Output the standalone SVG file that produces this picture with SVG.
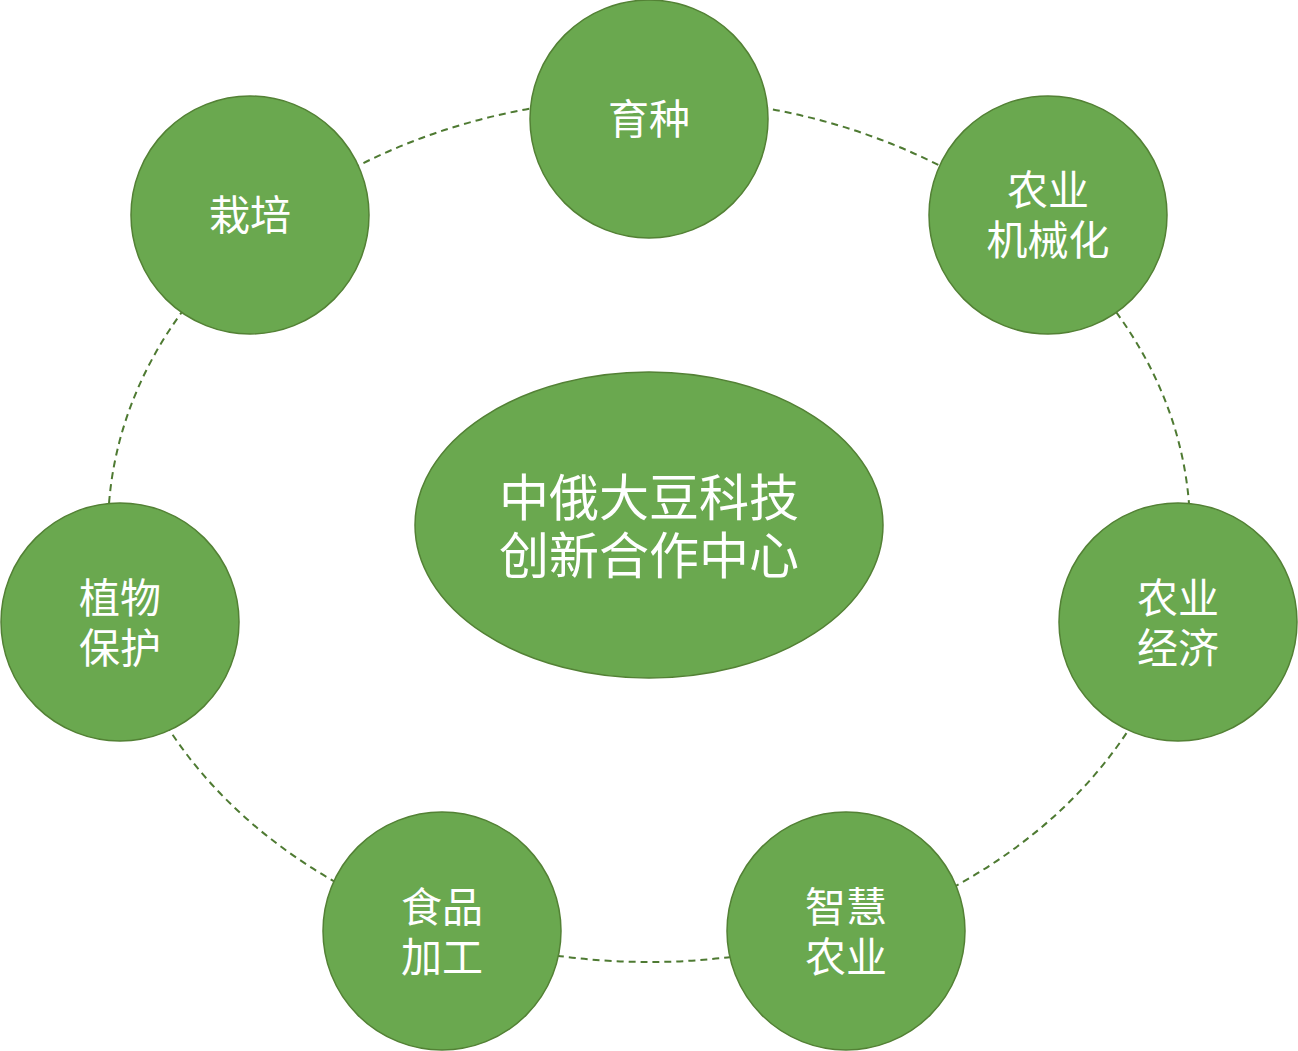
<svg xmlns="http://www.w3.org/2000/svg" width="1298" height="1051" viewBox="0 0 1298 1051">
<style>
.n{fill:#6aa84f;stroke:#538135;stroke-width:1.5}
.t{fill:#ffffff;font-family:"Noto Sans CJK SC","Noto Sans",sans-serif;font-size:41px;text-anchor:middle;dominant-baseline:central}
.c{font-size:50px}
</style>
<rect width="1298" height="1051" fill="#ffffff"/>
<g id="connectors">
<ellipse cx="649" cy="530" rx="541" ry="432" fill="none" stroke="#4e7a32" stroke-width="2" stroke-dasharray="7,5"/>
</g>
<g id="center">
<ellipse class="n" cx="649" cy="525" rx="234" ry="153"/>
<text class="t c"><tspan x="649" y="494">中俄大豆科技</tspan><tspan x="649" y="552">创新合作中心</tspan></text>
</g>
<g id="yuzhong">
<circle class="n" cx="649" cy="119" r="119"/>
<text class="t" x="649" y="116">育种</text>
</g>
<g id="jixiehua">
<circle class="n" cx="1048" cy="215" r="119"/>
<text class="t"><tspan x="1048" y="187">农业</tspan><tspan x="1048" y="237">机械化</tspan></text>
</g>
<g id="jingji">
<circle class="n" cx="1178" cy="622" r="119"/>
<text class="t"><tspan x="1178" y="595">农业</tspan><tspan x="1178" y="645">经济</tspan></text>
</g>
<g id="zhihui">
<circle class="n" cx="846" cy="931" r="119"/>
<text class="t"><tspan x="846" y="904">智慧</tspan><tspan x="846" y="954">农业</tspan></text>
</g>
<g id="shipin">
<circle class="n" cx="442" cy="931" r="119"/>
<text class="t"><tspan x="442" y="904">食品</tspan><tspan x="442" y="954">加工</tspan></text>
</g>
<g id="zhibao">
<circle class="n" cx="120" cy="622" r="119"/>
<text class="t"><tspan x="120" y="595">植物</tspan><tspan x="120" y="645">保护</tspan></text>
</g>
<g id="zaipei">
<circle class="n" cx="250" cy="215" r="119"/>
<text class="t" x="250" y="212">栽培</text>
</g>
</svg>
